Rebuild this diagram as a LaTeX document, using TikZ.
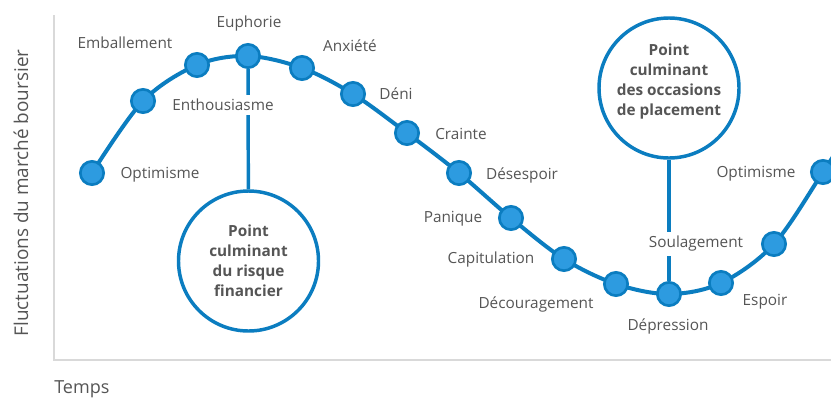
\documentclass[tikz,border=0pt]{standalone}
\usepackage{fontspec}
\setmainfont{Open Sans}
\definecolor{lineblue}{HTML}{0B7DC0}
\definecolor{dotfill}{HTML}{2D9BE0}
\definecolor{txtgray}{HTML}{555555}
\definecolor{axisgray}{HTML}{D9D9D9}
\begin{document}
\begin{tikzpicture}[x=0.75pt,y=-0.75pt,
  dotnode/.style={circle,draw=lineblue,fill=dotfill,line width=2pt,minimum size=17.5pt,inner sep=0pt},
  lbl/.style={text=txtgray,font=\fontsize{11.5}{14}\selectfont,inner sep=1pt},
  gaplbl/.style={lbl,fill=white,inner sep=3pt},
  bigcirc/.style={circle,draw=lineblue,line width=2.6pt,fill=white,minimum size=105pt,inner sep=0pt},
  circtxt/.style={text=txtgray,font=\fontsize{11.5}{15}\selectfont\bfseries,align=center,inner sep=0pt},
  curve/.style={draw=lineblue,line width=3pt},
  axis/.style={draw=axisgray,line width=1pt}]
\useasboundingbox (0,0) rectangle (831,397);
\clip (0,0) rectangle (831,397);
% axes
\coordinate (ytop) at (54,15);
\coordinate (origin) at (54,360);
\coordinate (xend) at (831,360);
\draw[axis] (ytop) -- (origin) -- (xend);
\node[lbl,font=\fontsize{13.5}{15}\selectfont,anchor=west,inner sep=0pt] (temps) at (54,389) {Temps};
\node[lbl,font=\fontsize{14.2}{16}\selectfont,rotate=90] (ylab) at (21,193) {Fluctuations du marché boursier};
% curve
\draw[curve] plot[smooth,tension=0.55] coordinates {(92,173) (143,101) (197,65) (248,56) (302,68) (353,94) (407,133) (459,173) (511,218) (564,259) (616,284) (669,294) (721,283) (774,244) (823,172) (850,130)};
% big circles and stems
\node[bigcirc] (c1) at (248.5,261) {};
\node[bigcirc] (c2) at (669,88) {};
\node[dotnode] (d4) at (248,56) {};
\node[dotnode] (d12) at (669,294) {};
\draw[curve,line width=2.6pt] (d4) -- (c1);
\draw[curve,line width=2.6pt] (c2) -- (d12);
\node[circtxt] (t1) at (248.5,261) {Point\\culminant\\du risque\\financier};
\node[circtxt] (t2) at (669,82) {Point\\culminant\\des occasions\\de placement};
% dots
\node[dotnode] (d1) at (92,173) {};
\node[dotnode] (d2) at (143,101) {};
\node[dotnode] (d3) at (197,65) {};
\node[dotnode] (d5) at (302,68) {};
\node[dotnode] (d6) at (353,94) {};
\node[dotnode] (d7) at (407,133) {};
\node[dotnode] (d8) at (459,173) {};
\node[dotnode] (d9) at (511,218) {};
\node[dotnode] (d10) at (564,259) {};
\node[dotnode] (d11) at (616,284) {};
\node[dotnode] (d13) at (721,283) {};
\node[dotnode] (d14) at (774,244) {};
\node[dotnode] (d15) at (823,172) {};
% labels
\node[lbl] (l1) at (160,175) {Optimisme};
\node[gaplbl] (l2) at (223,105) {Enthousiasme};
\node[lbl] (l3) at (125,43) {Emballement};
\node[lbl] (l4) at (249,24) {Euphorie};
\node[lbl] (l5) at (350,46) {Anxiété};
\node[lbl] (l6) at (396,94) {Déni};
\node[lbl] (l7) at (461,134) {Crainte};
\node[lbl] (l8) at (522,175) {Désespoir};
\node[lbl] (l9) at (453,219) {Panique};
\node[lbl] (l10) at (491,260) {Capitulation};
\node[lbl] (l11) at (536,304) {Découragement};
\node[lbl] (l12) at (668,326) {Dépression};
\node[lbl] (l13) at (765,302) {Espoir};
\node[gaplbl] (l14) at (696,244) {Soulagement};
\node[lbl] (l15) at (756,174) {Optimisme};
\end{tikzpicture}
\end{document}
